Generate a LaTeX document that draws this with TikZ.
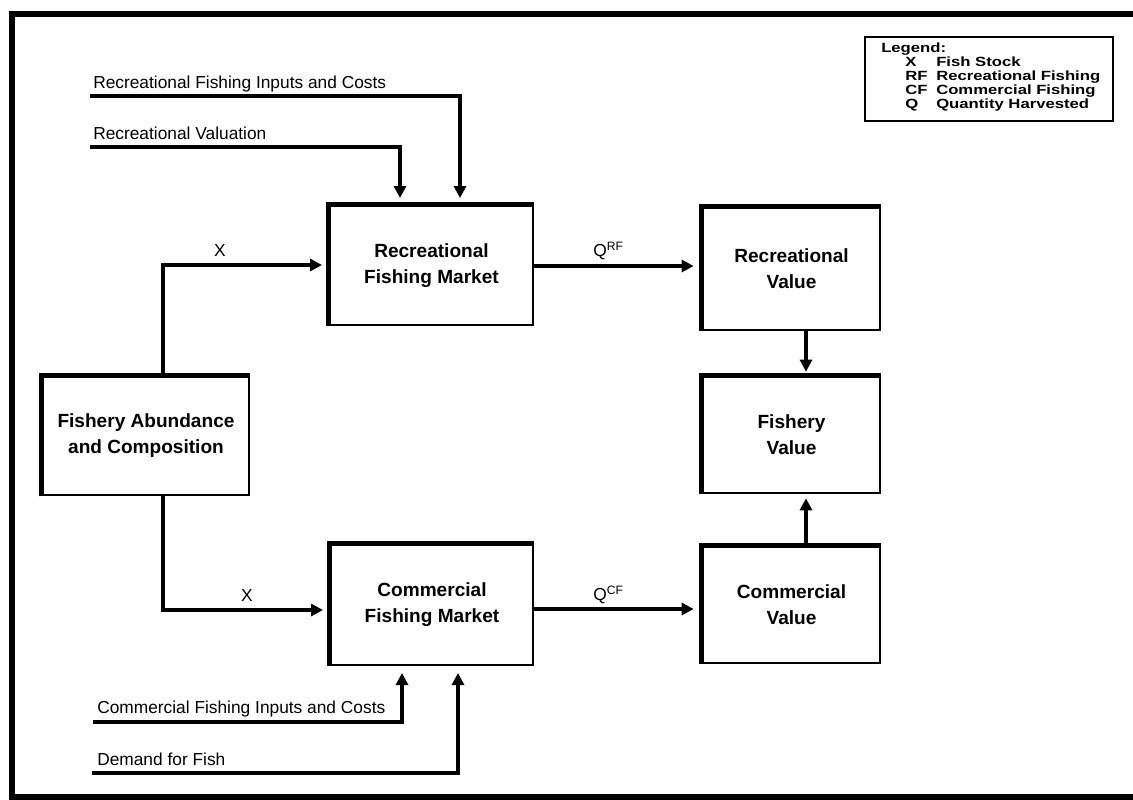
\documentclass[tikz,border=0pt]{standalone}
\usepackage{fontspec}
\setmainfont{Liberation Sans}
\newfontfamily\legfont[FakeStretch=1.25]{Liberation Sans}
\usetikzlibrary{arrows.meta}
\newcommand{\boxfont}{\fontsize{14.3}{19.5}\selectfont\bfseries}
\newcommand{\labfont}{\fontsize{13}{15}\selectfont}
\newcommand{\lgfont}{\legfont\fontsize{10}{12}\selectfont\bfseries}
\begin{document}
\begin{tikzpicture}[x=0.75pt,y=-0.75pt,
  box/.style={draw, line width=2pt, align=center, font=\boxfont, inner sep=0pt},
  conn/.style={line width=2.8pt},
  arr/.style={conn, -{Triangle[length=9pt,width=9pt]}},
  lab/.style={font=\labfont, anchor=base west, inner sep=0pt},
  clab/.style={font=\labfont, anchor=base, inner sep=0pt},
  leg/.style={font=\lgfont, anchor=base west, inner sep=0pt}]
\useasboundingbox (0,0) rectangle (1133,800);
\fill[white] (0,0) rectangle (1133,800);
% outer frame
\draw[line width=3.8pt] (1150,14) -- (12,14) -- (12,797) -- (1150,797);

% boxes
\node[box, minimum width=203*0.75pt, minimum height=119*0.75pt] (rfm) at (431.5,265.5) {Recreational\\Fishing Market};
\node[box, minimum width=202*0.75pt, minimum height=120*0.75pt] (cfm) at (432,605) {Commercial\\Fishing Market};
\node[box, minimum width=177*0.75pt, minimum height=122*0.75pt] (rv) at (791.5,269) {Recreational\\Value};
\node[box, minimum width=177*0.75pt, minimum height=116*0.75pt] (fv) at (791.5,435) {Fishery\\Value};
\node[box, minimum width=177*0.75pt, minimum height=116*0.75pt] (cv) at (791.5,605) {Commercial\\Value};
\node[box, minimum width=206*0.75pt, minimum height=118*0.75pt] (fa) at (146,436) {Fishery Abundance\\and Composition};
\foreach \n in {rfm,cfm,rv,fv,cv,fa}
  \draw[line width=3.6pt] (\n.south west) -- (\n.north west) -- (\n.north east);

% legend
\node[draw, line width=1.6pt, minimum width=248*0.75pt, minimum height=84*0.75pt, inner sep=0pt] (legend) at (989,79) {};
\node[leg] (lg0) at (881,52) {Legend:};
\node[leg] (lg1a) at (905,66) {X};
\node[leg] (lg1b) at (936,66) {Fish Stock};
\node[leg] (lg2a) at (905,80) {RF};
\node[leg] (lg2b) at (936,80) {Recreational Fishing};
\node[leg] (lg3a) at (905,94) {CF};
\node[leg] (lg3b) at (936,94) {Commercial Fishing};
\node[leg] (lg4a) at (905,108) {Q};
\node[leg] (lg4b) at (936,108) {Quantity Harvested};

% X connectors
\coordinate (xs1) at (163,265);
\coordinate (xs2) at (163,610);
\draw[arr, shorten >=5pt] (fa.north -| xs1) -- (xs1) -- (rfm.west |- xs1);
\draw[arr, shorten >=5pt] (fa.south -| xs2) -- (xs2) -- (cfm.west |- xs2);
\node[clab] (xl1) at (220,256) {X};
\node[clab] (xl2) at (247,601) {X};

% Q connectors
\coordinate (qrf) at (533,266);
\coordinate (qcf) at (533,609);
\draw[arr, shorten >=6pt] (rfm.east |- qrf) -- (rv.west |- qrf);
\draw[arr, shorten >=6pt] (cfm.east |- qcf) -- (cv.west |- qcf);
\node[lab] (ql1) at (593,256) {Q\textsuperscript{RF}};
\node[lab] (ql2) at (593,600) {Q\textsuperscript{CF}};

% value connectors
\coordinate (vx) at (806,0);
\draw[arr, shorten >=3pt] (rv.south -| vx) -- (fv.north -| vx);
\draw[arr, shorten >=3pt] (cv.north -| vx) -- (fv.south -| vx);

% input lines
\coordinate (ri1) at (90,96);
\coordinate (ri1t) at (460,96);
\coordinate (ri2) at (90,147);
\coordinate (ri2t) at (400,147);
\coordinate (ci1) at (93,722);
\coordinate (ci1t) at (402,722);
\coordinate (ci2) at (92,773);
\coordinate (ci2t) at (458,773);
\draw[arr, shorten >=5pt] (ri1) -- (ri1t) -- (rfm.north -| ri1t);
\draw[arr, shorten >=5pt] (ri2) -- (ri2t) -- (rfm.north -| ri2t);
\draw[arr, shorten >=5pt] (ci1) -- (ci1t) -- (cfm.south -| ci1t);
\draw[arr, shorten >=5pt] (ci2) -- (ci2t) -- (cfm.south -| ci2t);
\node[lab] (rl1) at (93,88) {Recreational Fishing Inputs and Costs};
\node[lab] (rl2) at (93,139) {Recreational Valuation};
\node[lab] (cl1) at (97,713) {Commercial Fishing Inputs and Costs};
\node[lab] (cl2) at (97,765) {Demand for Fish};
\end{tikzpicture}
\end{document}
